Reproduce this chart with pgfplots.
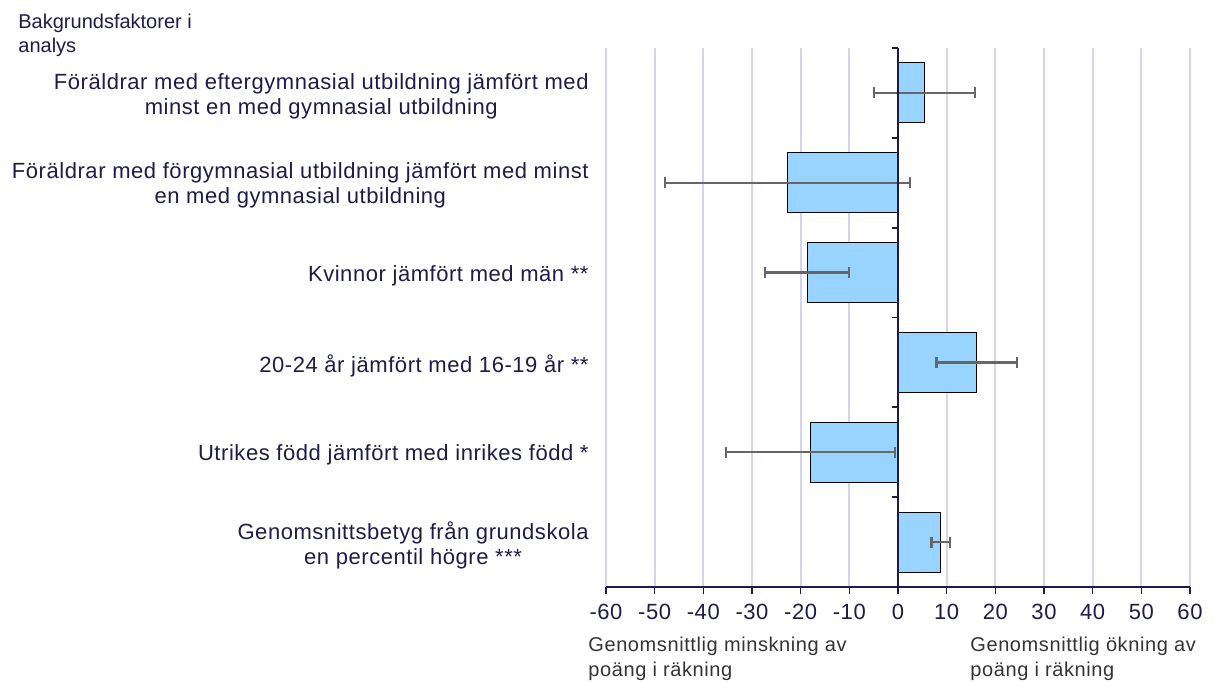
\documentclass[border=0pt]{standalone}
\usepackage{fontspec}
\setmainfont{Liberation Sans}
\newfontfamily\catfont[LetterSpace=2.5]{Liberation Sans}
\newfontfamily\botfont[LetterSpace=3]{Liberation Sans}
\usepackage{pgfplots}
\pgfplotsset{compat=1.18}
\definecolor{navy}{HTML}{1E1B4B}
\definecolor{barblue}{HTML}{99D3FF}
\definecolor{gridlav}{HTML}{D5D3EE}
\definecolor{errgray}{HTML}{666666}
\definecolor{labgray}{HTML}{333333}
\begin{document}
\fontsize{9.5}{12.5}\selectfont
\begin{tikzpicture}
\useasboundingbox (0,0) rectangle (608pt,341pt);
\begin{axis}[
  at={(303pt,47.5pt)}, anchor=south west,
  scale only axis, width=292pt, height=269.5pt,
  xmin=-60, xmax=60, ymin=-0.5, ymax=5.5, y dir=reverse,
  axis x line*=bottom, axis y line*=left,
  y axis line style={draw=none},
  x axis line style={navy, line width=0.8pt},
  xtick={-60,-50,...,60},
  xtick style={navy, line width=0.8pt},
  tick align=outside, major tick length=3.5pt,
  ytick={0,...,5}, ytick style={draw=none},
  yticklabels={{Föräldrar med eftergymnasial utbildning jämfört med\\minst en med gymnasial utbildning},
    {Föräldrar med förgymnasial utbildning jämfört med minst\\en med gymnasial utbildning},
    {Kvinnor jämfört med män **},
    {20-24 år jämfört med 16-19 år **},
    {Utrikes född jämfört med inrikes född *},
    {Genomsnittsbetyg från grundskola\\en percentil högre ***}},
  yticklabel style={align=center, font=\catfont\fontsize{11}{12.5}\selectfont, text=navy, inner sep=0pt, xshift=-5pt, yshift=-1.5pt},
  xticklabel style={text=navy, font=\catfont\fontsize{11}{13}\selectfont, inner sep=0pt, yshift=-5pt},
  /pgf/number format/assume math mode=true,
  xmajorgrids, grid style={gridlav, line width=1pt},
  xbar, bar width=30pt,
  clip=false,
]
\addplot[fill=barblue, draw=black, line width=0.5pt,
  error bars/.cd, x dir=both, x explicit,
  error bar style={errgray, line width=1.1pt},
  error mark options={errgray, line width=1.1pt, mark size=2.75pt, rotate=90}]
  coordinates {
  (5.4,0) +- (10.4,0)
  (-22.7,1) +- (25.1,0)
  (-18.65,2) +- (8.65,0)
  (16.15,3) +- (8.25,0)
  (-18.0,4) +- (17.35,0)
  (8.8,5) +- (1.9,0)
  };
\draw[navy, line width=1.1pt] (axis cs:0,-0.5) -- (axis cs:0,5.5);
\draw[navy, line width=0.9pt] ([xshift=-3.2pt]axis cs:0,-0.5) -- (axis cs:0,-0.5);
\draw[navy, line width=0.9pt] ([xshift=-3.2pt]axis cs:0,0.5) -- (axis cs:0,0.5);
\draw[navy, line width=0.9pt] ([xshift=-3.2pt]axis cs:0,1.5) -- (axis cs:0,1.5);
\draw[navy, line width=0.9pt] ([xshift=-3.2pt]axis cs:0,2.5) -- (axis cs:0,2.5);
\draw[navy, line width=0.9pt] ([xshift=-3.2pt]axis cs:0,3.5) -- (axis cs:0,3.5);
\draw[navy, line width=0.9pt] ([xshift=-3.2pt]axis cs:0,4.5) -- (axis cs:0,4.5);
\draw[navy, line width=0.9pt] ([xshift=-3.2pt]axis cs:0,5.5) -- (axis cs:0,5.5);
\end{axis}
\node[anchor=north west, align=left, inner sep=0pt, text=navy, font=\fontsize{10}{12}\selectfont] at (9pt,334pt) {Bakgrundsfaktorer i\\analys};
\node[anchor=north west, align=left, inner sep=0pt, text=labgray, font=\botfont\fontsize{10}{12.5}\selectfont] at (294pt,22.5pt) {Genomsnittlig minskning av\\poäng i räkning};
\node[anchor=north west, align=left, inner sep=0pt, text=labgray, font=\botfont\fontsize{10}{12.5}\selectfont] at (485pt,22.5pt) {Genomsnittlig ökning av\\poäng i räkning};
\end{tikzpicture}
\end{document}
